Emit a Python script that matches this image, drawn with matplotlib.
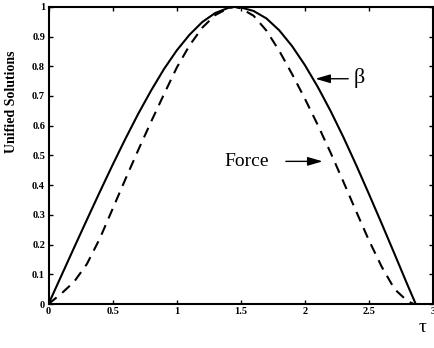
import matplotlib
matplotlib.use("Agg")
import matplotlib.pyplot as plt

# Solid curve (beta)
t_beta = [0.0, 0.1, 0.2, 0.3, 0.4, 0.5, 0.6, 0.7, 0.8, 0.9, 1.0, 1.1, 1.2, 1.3, 1.4, 1.45,
          1.5, 1.6, 1.7, 1.8, 1.9, 2.0, 2.1, 2.2, 2.3, 2.4, 2.5, 2.6, 2.7, 2.8, 2.865]
beta = [0.0, 0.095, 0.19, 0.284, 0.377, 0.468, 0.556, 0.64, 0.718, 0.79, 0.853, 0.906, 0.949, 0.979, 0.996, 1.0,
        0.998, 0.986, 0.961, 0.921, 0.868, 0.804, 0.731, 0.65, 0.562, 0.468, 0.37, 0.27, 0.168, 0.065, 0.0]

# Dashed curve (Force)
t_force = [0.0, 0.1, 0.2, 0.3, 0.4, 0.5, 0.6, 0.7, 0.8, 0.9, 1.0, 1.1, 1.2, 1.3, 1.4, 1.45,
           1.5, 1.6, 1.7, 1.8, 1.9, 2.0, 2.1, 2.2, 2.3, 2.4, 2.5, 2.6, 2.7, 2.8, 2.85]
force = [0.0, 0.035, 0.075, 0.135, 0.22, 0.32, 0.42, 0.518, 0.613, 0.705, 0.795, 0.87, 0.93, 0.972, 0.995, 1.0,
         0.995, 0.97, 0.92, 0.852, 0.774, 0.691, 0.603, 0.51, 0.412, 0.312, 0.214, 0.125, 0.05, 0.01, 0.0]

xticks = [0, 0.5, 1, 1.5, 2, 2.5, 3]
xticklabels = ["0", "0.5", "1", "1.5", "2", "2.5", "3"]
yticks = [0, 0.1, 0.2, 0.3, 0.4, 0.5, 0.6, 0.7, 0.8, 0.9, 1]
yticklabels = ["0", "0.1", "0.2", "0.3", "0.4", "0.5", "0.6", "0.7", "0.8", "0.9", "1"]

serif = ["Liberation Serif", "DejaVu Serif"]

fig = plt.figure(figsize=(4.35, 3.48), dpi=100)
ax = fig.add_axes([0.1115, 0.1264, 0.884, 0.854])

ax.plot(t_beta, beta, color="black", lw=1.5, solid_joinstyle="round")
ax.plot(t_force, force, color="black", lw=1.5, dashes=(5, 3.5))

ax.set_xlim(0, 3)
ax.set_ylim(0, 1)
ax.set_xticks(xticks)
ax.set_xticklabels(xticklabels, family=serif, fontsize=7.5, fontweight="bold")
ax.set_yticks(yticks)
ax.set_yticklabels(yticklabels, family=serif, fontsize=7.5, fontweight="bold")
ax.tick_params(direction="in", top=True, right=True, length=3, width=1, pad=2.5)
for s in ax.spines.values():
    s.set_linewidth(1.5)

# axis labels
fig.text(12 / 435, 1 - 102 / 348, "Unified Solutions", rotation=90, ha="center", va="center",
         family=serif, fontsize=10, fontweight="bold")
fig.text(423 / 435, 1 - 328 / 348, "τ", ha="center", va="center",
         family=serif, fontsize=14)

arrow = dict(arrowstyle="-|>,head_length=0.75,head_width=0.22", color="black", lw=1.0, mutation_scale=12)

# annotations
ax.annotate("", xy=(2.06, 0.758), xytext=(2.36, 0.758), arrowprops=arrow)
ax.text(2.38, 0.762, "β", family=serif, fontsize=16, ha="left", va="center")

ax.annotate("", xy=(2.16, 0.48), xytext=(1.83, 0.48), arrowprops=arrow)
ax.text(1.545, 0.478, "Force", family=serif, fontsize=14, ha="center", va="center")

fig.savefig("out.png", dpi=100)
